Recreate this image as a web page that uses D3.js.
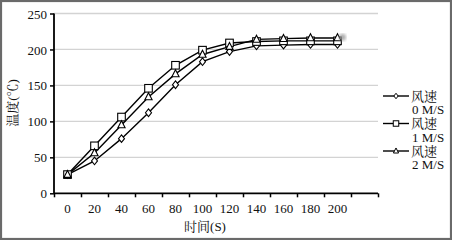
<!DOCTYPE html>
<html><head><meta charset="utf-8">
<script src="https://cdn.jsdelivr.net/npm/d3@7"></script>
<style>
body{margin:0;background:#fff;}
svg{display:block;}
text{font-family:"Liberation Serif","Noto Serif CJK SC","Noto Sans CJK SC",serif;fill:#111;}
</style></head>
<body><svg id="c" width="452" height="240"></svg>
<script>
const timeLabels = ["0","20","40","60","80","100","120","140","160","180","200"];
const speed0 = [26, 45, 76, 112, 151, 183, 197, 205, 206, 207, 207];
const speed1 = [26, 66, 106, 146, 178, 199, 209, 211, 212, 212, 212];
const speed2 = [26, 56, 95, 134, 166, 193, 204, 214, 215, 216, 216];
const seriesNames = ["风速\n0 M/S","风速\n1 M/S","风速\n2 M/S"];
const markers = ["diamond","square","triangle"];
const yTicks = [0,50,100,150,200,250];

const svg = d3.select("#c");
svg.append("rect").attr("x",1).attr("y",1).attr("width",450).attr("height",238)
  .attr("fill","#fff").attr("stroke","#6a6a6a").attr("stroke-width",2.2);

const L=54, R=378, T=13.5, B=193.3;
const nSlots = timeLabels.length + 1;
const x = d3.scaleLinear().domain([0,nSlots]).range([L,R]);
const y = d3.scaleLinear().domain([0,250]).range([B,T]);

// gridlines
svg.append("g").selectAll("line").data(yTicks.filter(d=>d>0)).join("line")
  .attr("x1",L).attr("x2",R).attr("y1",d=>y(d)).attr("y2",d=>y(d))
  .attr("stroke","#d3d3d3").attr("stroke-width",1.3);

// y axis
const ya = svg.append("g").attr("transform",`translate(${L},0)`)
  .call(d3.axisLeft(y).tickValues(yTicks).tickSize(4).tickPadding(3));
ya.select(".domain").attr("stroke","#000").attr("stroke-width",1.8).attr("d",`M0,${B}V${T}`);
ya.selectAll(".tick line").attr("stroke","#000").attr("stroke-width",1.5);
ya.selectAll("text").attr("font-size",13).attr("dy","0.35em");

// x axis
const xa = svg.append("g").attr("transform",`translate(0,${B})`)
  .call(d3.axisBottom(x).tickValues(d3.range(nSlots+1)).tickSize(4).tickFormat(""));
xa.select(".domain").attr("stroke","#000").attr("stroke-width",1.8).attr("d",`M${L},0H${R}`);
xa.selectAll(".tick line").attr("stroke","#000").attr("stroke-width",1.5);
svg.append("g").selectAll("text").data(timeLabels).join("text")
  .attr("x",(d,i)=>x(i+0.5)).attr("y",213).attr("text-anchor","middle")
  .attr("font-size",13).text(d=>d);

// axis titles
svg.append("text").attr("x",205).attr("y",231).attr("text-anchor","middle")
  .attr("font-size",13).text("时间(S)");
svg.append("text").attr("transform","translate(17,103) rotate(-90)")
  .attr("text-anchor","middle").attr("font-size",13).text("温度(℃)");

// series
const data = [speed0, speed1, speed2];
const line = d3.line().x((d,i)=>x(i+0.5)).y(d=>y(d));
function drawMarker(g, type, cx, cy, s){
  s = s || 1;
  if(type==="diamond"){
    g.append("path").attr("d",`M${cx},${cy-3.8*s}L${cx+3*s},${cy}L${cx},${cy+3.8*s}L${cx-3*s},${cy}Z`);
  } else if(type==="square"){
    g.append("rect").attr("x",cx-3.8*s).attr("y",cy-3.8*s).attr("width",7.6*s).attr("height",7.6*s);
  } else {
    g.append("path").attr("d",`M${cx},${cy-4.2*s}L${cx+3.6*s},${cy+2.8*s}L${cx-3.6*s},${cy+2.8*s}Z`);
  }
}
data.forEach((s,k)=>{
  svg.append("path").datum(s).attr("d",line).attr("fill","none")
    .attr("stroke","#000").attr("stroke-width",1.4);
});
data.forEach((s,k)=>{
  const g = svg.append("g").attr("fill","#fff").attr("stroke","#000").attr("stroke-width",1.1);
  s.forEach((v,i)=>drawMarker(g, markers[k], x(i+0.5), y(v)));
});

// smudge at end
svg.append("defs").append("filter").attr("id","blur")
  .append("feGaussianBlur").attr("stdDeviation",1.6);
svg.append("circle").attr("cx",x(timeLabels.length-0.5)+5).attr("cy",y(217)).attr("r",3.5)
  .attr("fill","#999").attr("filter","url(#blur)").attr("opacity",0.8);

// legend
seriesNames.forEach((name,k)=>{
  const ly = 96 + k*27.5;
  const g = svg.append("g");
  g.append("line").attr("x1",383).attr("x2",409).attr("y1",ly).attr("y2",ly)
    .attr("stroke","#000").attr("stroke-width",1.4);
  const mg = g.append("g").attr("fill","#fff").attr("stroke","#000").attr("stroke-width",1);
  drawMarker(mg, markers[k], 396, ly, 0.72);
  const parts = name.split("\n");
  g.append("text").attr("x",411).attr("y",ly+4.5).attr("font-size",13).text(parts[0]);
  g.append("text").attr("x",412).attr("y",ly+18).attr("font-size",13).text(parts[1]);
});
</script></body></html>
